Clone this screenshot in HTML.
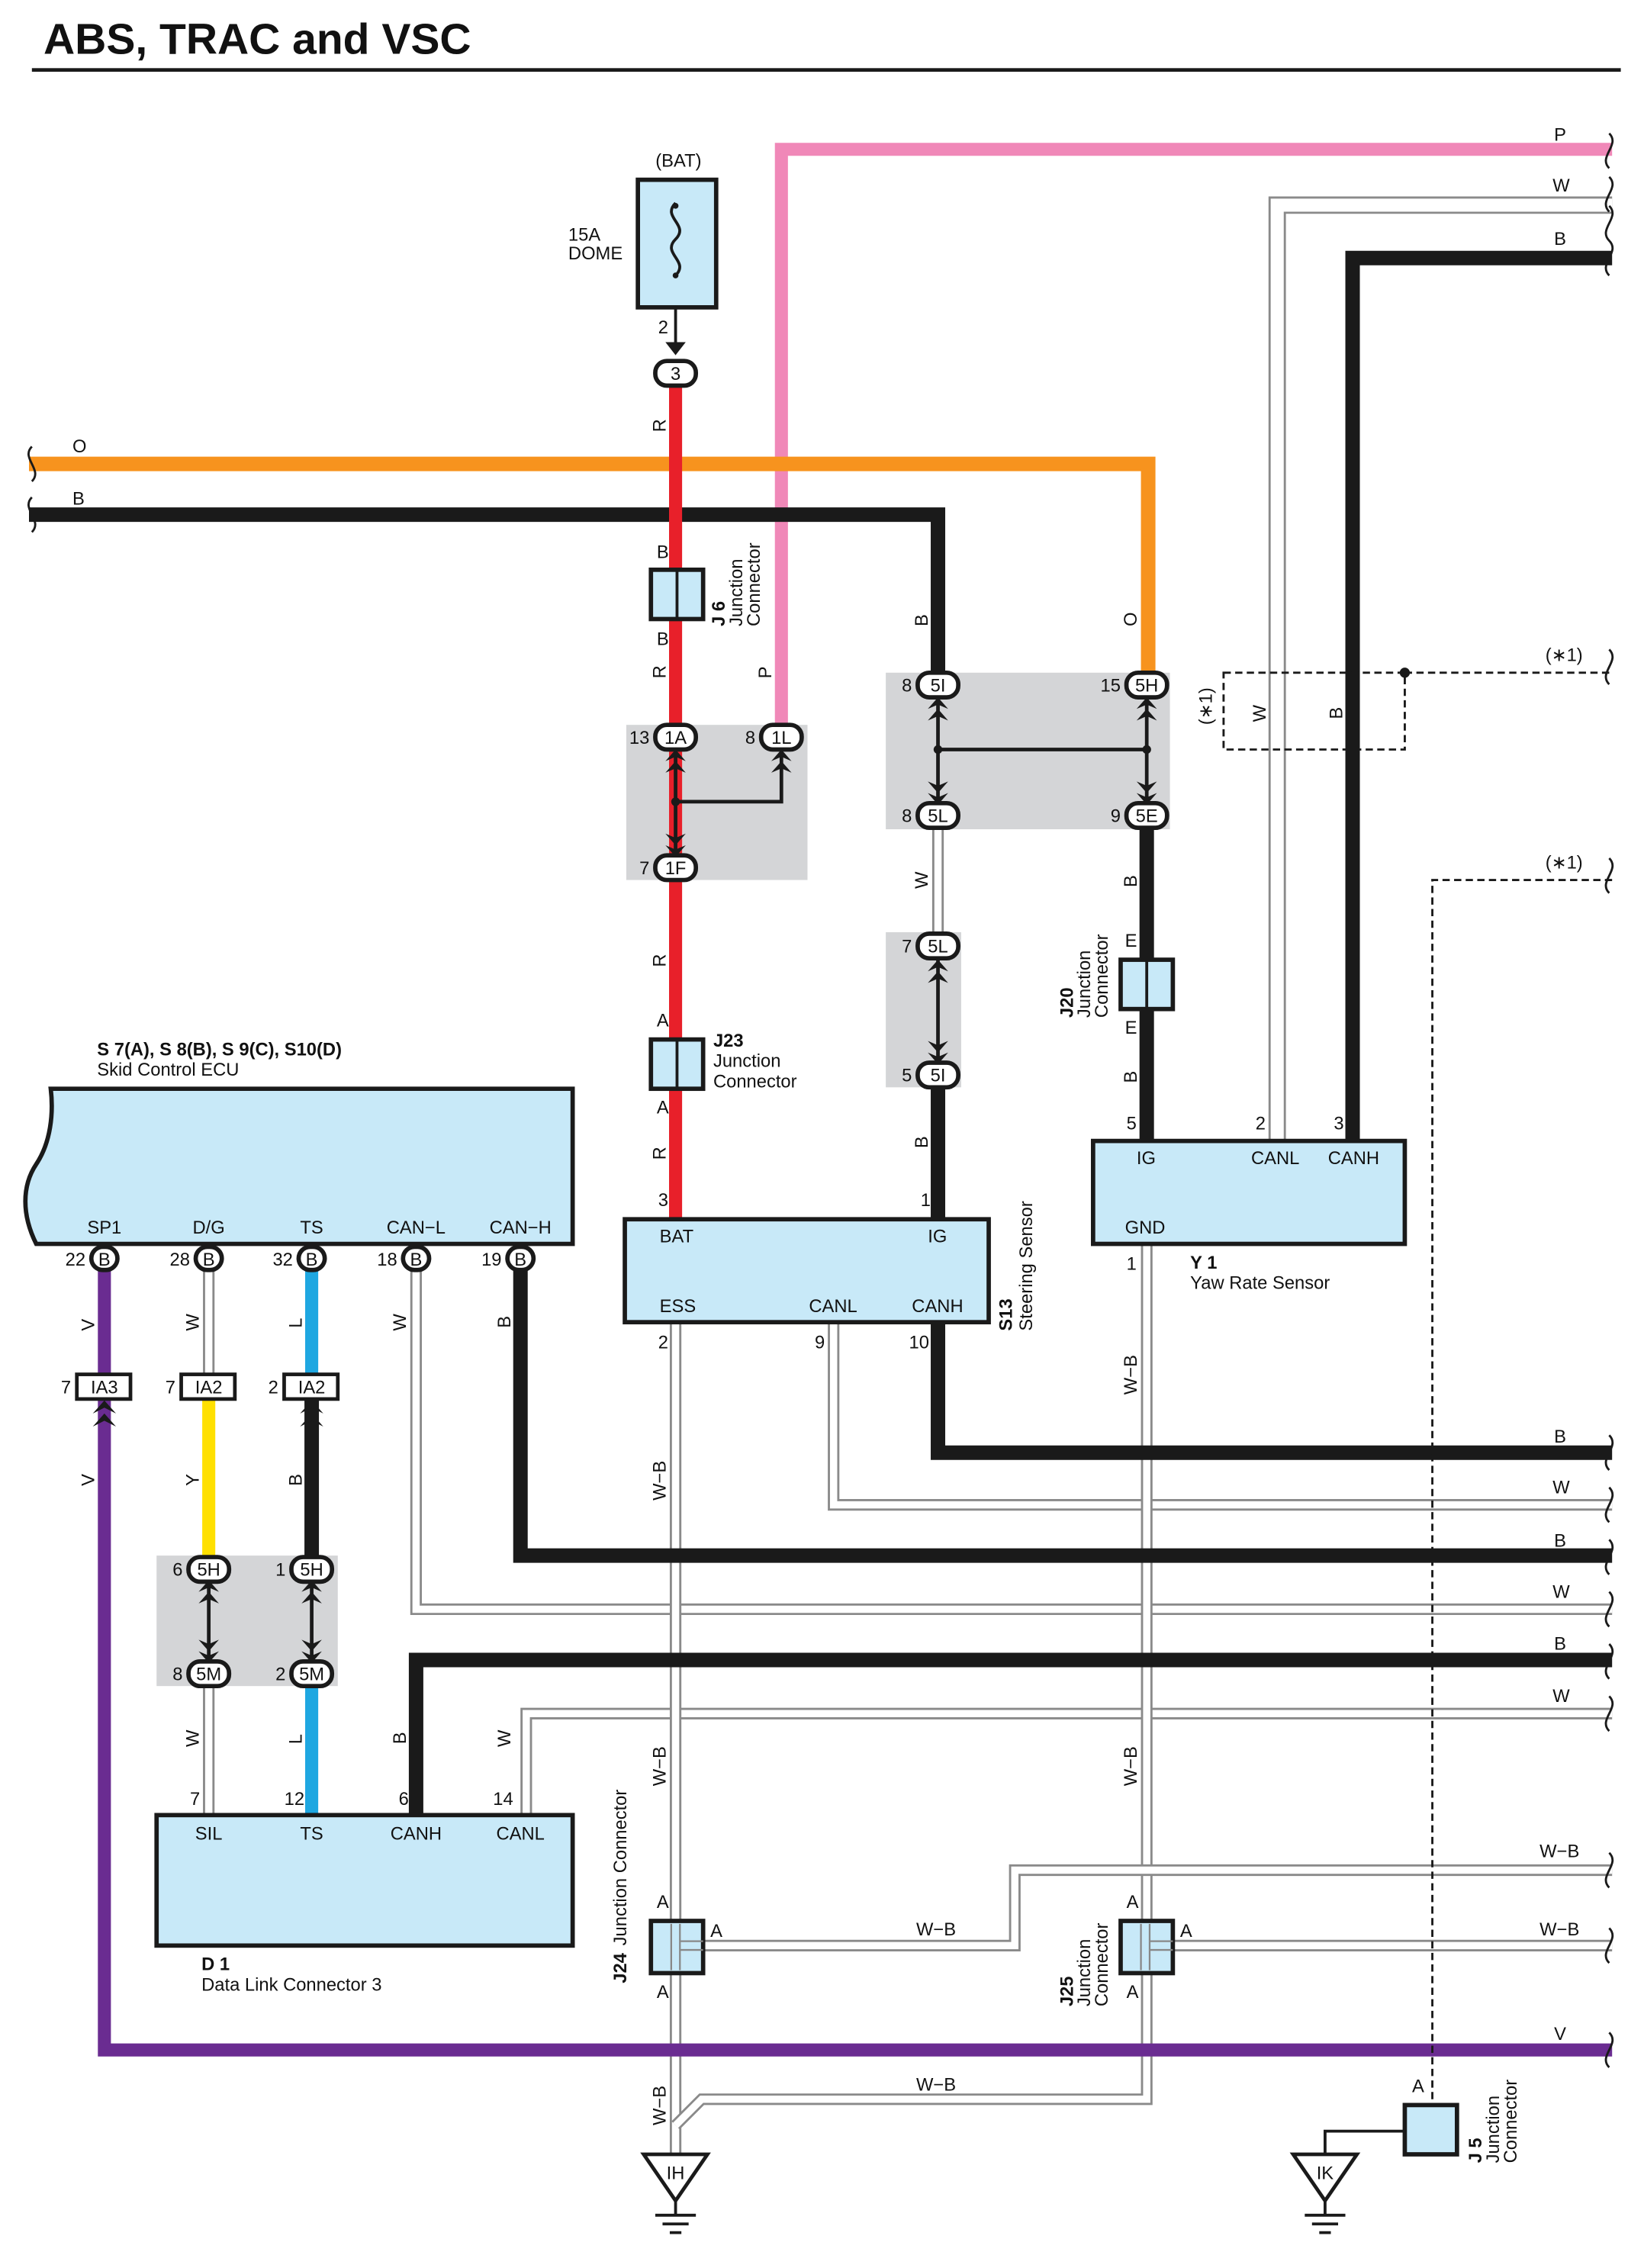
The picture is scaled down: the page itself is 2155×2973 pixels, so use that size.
<!DOCTYPE html>
<html><head><meta charset="utf-8"><style>
html,body{margin:0;padding:0;background:#fff}
svg{display:block}
text{font-family:"Liberation Sans",sans-serif;font-size:12.5px;fill:#111}
.w1{fill:none;stroke:#8a8a8a;stroke-width:8}
.w2{fill:none;stroke:#fff;stroke-width:5}
.bk{fill:none;stroke:#1a1a1a;stroke-width:10}
.box{fill:#c8e9f8;stroke:#1a1a1a;stroke-width:3}
.gr{fill:#d4d5d7}
.c{fill:#fff;stroke:#1a1a1a;stroke-width:3}
.m{text-anchor:middle}
.e{text-anchor:end}
</style></head><body>
<svg width="2155" height="2973" viewBox="0 0 1134 1564.4" preserveAspectRatio="none" xmlns="http://www.w3.org/2000/svg">
<text x="30" y="37" style="font-size:30px;font-weight:bold">ABS, TRAC and VSC</text>
<rect x="22" y="47" width="1096" height="2.5" fill="#1a1a1a"/>

<rect class="gr" x="432" y="500" width="125" height="107"/>
<rect class="gr" x="611" y="464" width="196" height="108"/>
<rect class="gr" x="611" y="643" width="52" height="107"/>
<rect class="gr" x="108" y="1073" width="125" height="90"/>

<path d="M1112 141.5H881V787" fill="none" stroke="#8a8a8a" stroke-width="12"/>
<path d="M1112 141.5H881V787" fill="none" stroke="#fff" stroke-width="9"/>
<path class="w1" d="M647 572V643"/><path class="w2" d="M647 572V643"/>
<path class="w1" d="M144 868V950"/><path class="w2" d="M144 868V950"/>
<path class="w1" d="M144 1163V1252"/><path class="w2" d="M144 1163V1252"/>
<path class="w1" d="M287 868V1110H1112"/><path class="w2" d="M287 868V1110H1112"/>
<path class="w1" d="M363 1252V1182H1112"/><path class="w2" d="M363 1252V1182H1112"/>
<path class="w1" d="M575 912V1038H1112"/><path class="w2" d="M575 912V1038H1112"/>
<path class="w1" d="M466 912V1488"/><path class="w2" d="M466 912V1488"/>
<path class="w1" d="M791 858V1448H484L466 1466"/><path class="w2" d="M791 858V1448H484L466 1466"/>
<path class="w1" d="M466 1342H700V1290H1112"/><path class="w2" d="M466 1342H700V1290H1112"/>
<path class="w1" d="M791 1342H1112"/><path class="w2" d="M791 1342H1112"/>

<path d="M539 508V103H1112" fill="none" stroke="#f088b8" stroke-width="9"/>
<path class="bk" d="M1112 178H933V787"/>
<path d="M20 320H792V468" fill="none" stroke="#f7931e" stroke-width="10"/>
<path class="bk" d="M20 355H647V468"/>
<path d="M466 266V840" fill="none" stroke="#e8202a" stroke-width="9"/>
<path class="bk" d="M647 750V841"/>
<path class="bk" d="M791 572V787"/>
<path d="M72 868V1414H1112" fill="none" stroke="#6a2c91" stroke-width="9"/>
<path d="M144 965V1075" fill="none" stroke="#ffe000" stroke-width="9"/>
<path d="M215 868V950M215 1163V1252" fill="none" stroke="#1ea7e1" stroke-width="9"/>
<path class="bk" d="M215 965V1075"/>
<path class="bk" d="M359 868V1073H1112"/>
<path class="bk" d="M287 1252V1145H1112"/>
<path class="bk" d="M647 912V1002H1112"/>
<path d="M466 520V590M466 553H539V520M647 482V555M647 517H791M791 482V555M647 662V733" fill="none" stroke="#1a1a1a" stroke-width="2.5"/>
<circle cx="466" cy="553" r="3" fill="#1a1a1a"/><circle cx="647" cy="517" r="3" fill="#1a1a1a"/><circle cx="791" cy="517" r="3" fill="#1a1a1a"/>
<path d="M144 1092V1145M215 1092V1145" fill="none" stroke="#1a1a1a" stroke-width="2.5"/>

<rect x="844" y="464" width="125" height="53" fill="none" stroke="#1a1a1a" stroke-width="1.5" stroke-dasharray="5,3"/>
<path d="M969 464H1112M1112 607H988V1452" fill="none" stroke="#1a1a1a" stroke-width="1.5" stroke-dasharray="5,3"/>
<circle cx="969" cy="464" r="3.5" fill="#1a1a1a"/>

<g fill="#1a1a1a">
<path d="M459 236h14l-7 9z"/>
<path d="M459 525l7-8 7 8-7-3zM459 533l7-8 7 8-7-3z"/>
<path d="M532 525l7-8 7 8-7-3zM532 533l7-8 7 8-7-3z"/>
<path d="M459 575l7 8 7-8-7 3zM459 583l7 8 7-8-7 3z"/>
<path d="M640 489l7-8 7 8-7-3zM640 497l7-8 7 8-7-3z"/>
<path d="M784 489l7-8 7 8-7-3zM784 497l7-8 7 8-7-3z"/>
<path d="M640 539l7 8 7-8-7 3zM640 547l7 8 7-8-7 3z"/>
<path d="M784 539l7 8 7-8-7 3zM784 547l7 8 7-8-7 3z"/>
<path d="M640 670l7-8 7 8-7-3zM640 678l7-8 7 8-7-3z"/>
<path d="M640 718l7 8 7-8-7 3zM640 726l7 8 7-8-7 3z"/>
<path d="M64 975l8-9 8 9-8-4zM64 984l8-9 8 9-8-4z"/>
<path d="M207 975l8-9 8 9-8-4zM207 984l8-9 8 9-8-4z"/>
<path d="M137 1098l7-8 7 8-7-3zM137 1106l7-8 7 8-7-3zM208 1098l7-8 7 8-7-3zM208 1106l7-8 7 8-7-3z"/>
<path d="M137 1131l7 8 7-8-7 3zM137 1139l7 8 7-8-7 3zM208 1131l7 8 7-8-7 3zM208 1139l7 8 7-8-7 3z"/>
</g>

<rect class="box" x="440" y="124" width="54" height="88"/>
<path d="M466 140c-10 10 10 15 0 25s10 15 0 25" fill="none" stroke="#1a1a1a" stroke-width="2"/>
<circle cx="466" cy="142" r="2" fill="#1a1a1a"/><circle cx="466" cy="190" r="2" fill="#1a1a1a"/>
<path d="M466 212V236" stroke="#1a1a1a" stroke-width="2"/>
<text x="468" y="115" class="m">(BAT)</text>
<text x="392" y="166">15A</text><text x="392" y="179">DOME</text>
<text x="454" y="230">2</text>

<g>
<rect class="c" x="452" y="249" width="28" height="17" rx="8"/>
<rect class="c" x="452" y="500" width="28" height="17" rx="8"/>
<rect class="c" x="525" y="500" width="28" height="17" rx="8"/>
<rect class="c" x="452" y="590" width="28" height="17" rx="8"/>
<rect class="c" x="633" y="464" width="28" height="17" rx="8"/>
<rect class="c" x="777" y="464" width="28" height="17" rx="8"/>
<rect class="c" x="633" y="554" width="28" height="17" rx="8"/>
<rect class="c" x="777" y="554" width="28" height="17" rx="8"/>
<rect class="c" x="633" y="644" width="28" height="17" rx="8"/>
<rect class="c" x="633" y="733" width="28" height="17" rx="8"/>
<rect class="c" x="130" y="1074" width="28" height="17" rx="8"/>
<rect class="c" x="201" y="1074" width="28" height="17" rx="8"/>
<rect class="c" x="130" y="1146" width="28" height="17" rx="8"/>
<rect class="c" x="201" y="1146" width="28" height="17" rx="8"/>
</g>
<text x="466" y="262" class="m">3</text>
<text x="466" y="513" class="m">1A</text><text x="539" y="513" class="m">1L</text><text x="466" y="603" class="m">1F</text>
<text x="647" y="477" class="m">5I</text><text x="791" y="477" class="m">5H</text>
<text x="647" y="567" class="m">5L</text><text x="791" y="567" class="m">5E</text>
<text x="647" y="657" class="m">5L</text><text x="647" y="746" class="m">5I</text>
<text x="144" y="1087" class="m">5H</text><text x="215" y="1087" class="m">5H</text>
<text x="144" y="1159" class="m">5M</text><text x="215" y="1159" class="m">5M</text>
<text x="448" y="513" class="e">13</text><text x="521" y="513" class="e">8</text><text x="448" y="603" class="e">7</text>
<text x="629" y="477" class="e">8</text><text x="773" y="477" class="e">15</text>
<text x="629" y="567" class="e">8</text><text x="773" y="567" class="e">9</text>
<text x="629" y="657" class="e">7</text><text x="629" y="746" class="e">5</text>
<text x="126" y="1087" class="e">6</text><text x="197" y="1087" class="e">1</text>
<text x="126" y="1159" class="e">8</text><text x="197" y="1159" class="e">2</text>

<rect class="box" x="449" y="393" width="36" height="34"/><path d="M467 393V427" stroke="#1a1a1a" stroke-width="2"/>
<rect class="box" x="449" y="717" width="36" height="34"/><path d="M467 717V751" stroke="#1a1a1a" stroke-width="2"/>
<rect class="box" x="773" y="662" width="36" height="34"/><path d="M791 662V696" stroke="#1a1a1a" stroke-width="2"/>
<rect class="box" x="449" y="1325" width="36" height="36"/><rect class="box" x="773" y="1325" width="36" height="36"/>
<path d="M463 1327V1359M469 1327V1359M469 1339H485M469 1345H485M787 1327V1359M793 1327V1359M793 1339H809M793 1345H809" stroke="#888" stroke-width="1.2"/>
<rect class="box" x="969" y="1452" width="36" height="34"/>
<text x="453" y="385">B</text><text x="453" y="445">B</text>
<text x="453" y="708">A</text><text x="453" y="768">A</text>
<text x="776" y="653">E</text><text x="776" y="713">E</text>
<text x="453" y="1316">A</text><text x="453" y="1378">A</text><text x="490" y="1336">A</text>
<text x="777" y="1316">A</text><text x="777" y="1378">A</text><text x="814" y="1336">A</text>
<text x="974" y="1443">A</text>
<g transform="translate(500,432) rotate(-90)"><text x="0" y="0" style="font-weight:bold">J 6</text><text x="0" y="12">Junction</text><text x="0" y="24">Connector</text></g>
<text x="492" y="722" style="font-weight:bold">J23</text><text x="492" y="736">Junction</text><text x="492" y="750">Connector</text>
<g transform="translate(740,702) rotate(-90)"><text x="0" y="0" style="font-weight:bold">J20</text><text x="0" y="12">Junction</text><text x="0" y="24">Connector</text></g>
<g transform="translate(432,1368) rotate(-90)"><text style="font-weight:bold">J24</text><text x="26">Junction Connector</text></g>
<g transform="translate(740,1384) rotate(-90)"><text x="0" y="0" style="font-weight:bold">J25</text><text x="0" y="12">Junction</text><text x="0" y="24">Connector</text></g>
<g transform="translate(1022,1492) rotate(-90)"><text x="0" y="0" style="font-weight:bold">J 5</text><text x="0" y="12">Junction</text><text x="0" y="24">Connector</text></g>

<rect class="box" x="431" y="841" width="251" height="71"/>
<text x="455" y="857">BAT</text><text x="640" y="857">IG</text>
<text x="455" y="905">ESS</text><text x="558" y="905">CANL</text><text x="629" y="905">CANH</text>
<text x="454" y="832">3</text><text x="635" y="832">1</text>
<text x="454" y="930">2</text><text x="562" y="930">9</text><text x="627" y="930">10</text>
<g transform="translate(698,918) rotate(-90)"><text style="font-weight:bold">S13</text><text y="14">Steering Sensor</text></g>

<rect class="box" x="754" y="787" width="215" height="71"/>
<text x="784" y="803">IG</text><text x="863" y="803">CANL</text><text x="916" y="803">CANH</text><text x="776" y="851">GND</text>
<text x="777" y="779">5</text><text x="866" y="779">2</text><text x="920" y="779">3</text><text x="777" y="876">1</text>
<text x="821" y="875" style="font-weight:bold">Y 1</text><text x="821" y="889">Yaw Rate Sensor</text>

<path class="box" d="M395 751V858H25c-10-20-10-40 0-55s12-35 10-52Z"/>
<text x="67" y="728" style="font-weight:bold">S 7(A), S 8(B), S 9(C), S10(D)</text>
<text x="67" y="742">Skid Control ECU</text>
<text x="72" y="851" class="m">SP1</text><text x="144" y="851" class="m">D/G</text><text x="215" y="851" class="m">TS</text><text x="287" y="851" class="m">CAN−L</text><text x="359" y="851" class="m">CAN−H</text>
<rect class="c" x="63" y="860" width="18" height="16" rx="8"/><rect class="c" x="135" y="860" width="18" height="16" rx="8"/><rect class="c" x="206" y="860" width="18" height="16" rx="8"/><rect class="c" x="278" y="860" width="18" height="16" rx="8"/><rect class="c" x="350" y="860" width="18" height="16" rx="8"/>
<text x="72" y="873" class="m">B</text><text x="144" y="873" class="m">B</text><text x="215" y="873" class="m">B</text><text x="287" y="873" class="m">B</text><text x="359" y="873" class="m">B</text>
<text x="59" y="873" class="e">22</text><text x="131" y="873" class="e">28</text><text x="202" y="873" class="e">32</text><text x="274" y="873" class="e">18</text><text x="346" y="873" class="e">19</text>
<rect x="53" y="948" width="37" height="17" fill="#fff" stroke="#1a1a1a" stroke-width="2.5"/>
<rect x="125" y="948" width="37" height="17" fill="#fff" stroke="#1a1a1a" stroke-width="2.5"/>
<rect x="196" y="948" width="37" height="17" fill="#fff" stroke="#1a1a1a" stroke-width="2.5"/>
<text x="72" y="961" class="m">IA3</text><text x="144" y="961" class="m">IA2</text><text x="215" y="961" class="m">IA2</text>
<text x="49" y="961" class="e">7</text><text x="121" y="961" class="e">7</text><text x="192" y="961" class="e">2</text>

<rect class="box" x="108" y="1252" width="287" height="90"/>
<text x="144" y="1269" class="m">SIL</text><text x="215" y="1269" class="m">TS</text><text x="287" y="1269" class="m">CANH</text><text x="359" y="1269" class="m">CANL</text>
<text x="138" y="1245" class="e">7</text><text x="210" y="1245" class="e">12</text><text x="282" y="1245" class="e">6</text><text x="354" y="1245" class="e">14</text>
<text x="139" y="1359" style="font-weight:bold">D 1</text><text x="139" y="1373">Data Link Connector 3</text>

<g fill="#fff" stroke="#1a1a1a" stroke-width="2.5">
<path d="M444 1486h44l-22 32z"/><path d="M892 1486h44l-22 32z"/>
</g>
<path d="M466 1518v10M452 1528h28M457 1534h18M462 1540h8M914 1518v10M900 1528h28M905 1534h18M910 1540h8M914 1486V1470H969" fill="none" stroke="#1a1a1a" stroke-width="2"/>
<text x="466" y="1503" class="m">IH</text><text x="914" y="1503" class="m">IK</text>

<g fill="none" stroke="#1a1a1a" stroke-width="1.5">
<path d="M1110 92c8 8-8 16 0 24M1110 122c8 8-8 16 0 24M1110 142c8 8-8 16 0 24M1110 166c8 8-8 16 0 24M1110 448c8 8-8 16 0 24M1110 592c8 8-8 16 0 24"/>
<path d="M1110 990c8 8-8 16 0 24M1110 1026c8 8-8 16 0 24M1110 1062c8 8-8 16 0 24M1110 1098c8 8-8 16 0 24M1110 1134c8 8-8 16 0 24M1110 1170c8 8-8 16 0 24M1110 1278c8 8-8 16 0 24M1110 1330c8 8-8 16 0 24M1110 1402c8 8-8 16 0 24"/>
<path d="M22 308c-8 8 8 16 0 24M22 343c-8 8 8 16 0 24"/>
</g>
<text x="1072" y="97">P</text><text x="1071" y="132">W</text><text x="1072" y="169">B</text>
<text x="1066" y="456">(∗1)</text><text x="1066" y="599">(∗1)</text>
<text x="1072" y="995">B</text><text x="1071" y="1030">W</text><text x="1072" y="1067">B</text><text x="1071" y="1102">W</text><text x="1072" y="1138">B</text><text x="1071" y="1174">W</text>
<text x="1062" y="1281">W−B</text><text x="1062" y="1335">W−B</text><text x="1072" y="1407">V</text>
<text x="632" y="1335">W−B</text><text x="632" y="1442">W−B</text>
<text x="50" y="312">O</text><text x="50" y="348">B</text>

<g>
<text transform="translate(459,298) rotate(-90)">R</text>
<text transform="translate(459,468) rotate(-90)">R</text>
<text transform="translate(532,468) rotate(-90)">P</text>
<text transform="translate(459,667) rotate(-90)">R</text>
<text transform="translate(459,800) rotate(-90)">R</text>
<text transform="translate(640,432) rotate(-90)">B</text>
<text transform="translate(784,432) rotate(-90)">O</text>
<text transform="translate(640,613) rotate(-90)">W</text>
<text transform="translate(640,792) rotate(-90)">B</text>
<text transform="translate(784,612) rotate(-90)">B</text>
<text transform="translate(784,747) rotate(-90)">B</text>
<text transform="translate(836,500) rotate(-90)">(∗1)</text>
<text transform="translate(873,498) rotate(-90)">W</text>
<text transform="translate(926,496) rotate(-90)">B</text>
<text transform="translate(65,918) rotate(-90)">V</text>
<text transform="translate(137,918) rotate(-90)">W</text>
<text transform="translate(208,916) rotate(-90)">L</text>
<text transform="translate(280,918) rotate(-90)">W</text>
<text transform="translate(352,916) rotate(-90)">B</text>
<text transform="translate(65,1025) rotate(-90)">V</text>
<text transform="translate(137,1025) rotate(-90)">Y</text>
<text transform="translate(208,1025) rotate(-90)">B</text>
<text transform="translate(137,1205) rotate(-90)">W</text>
<text transform="translate(208,1203) rotate(-90)">L</text>
<text transform="translate(280,1203) rotate(-90)">B</text>
<text transform="translate(352,1205) rotate(-90)">W</text>
<text transform="translate(459,1035) rotate(-90)">W−B</text>
<text transform="translate(459,1232) rotate(-90)">W−B</text>
<text transform="translate(459,1466) rotate(-90)">W−B</text>
<text transform="translate(784,962) rotate(-90)">W−B</text>
<text transform="translate(784,1232) rotate(-90)">W−B</text>
</g>
</svg>
</body></html>
